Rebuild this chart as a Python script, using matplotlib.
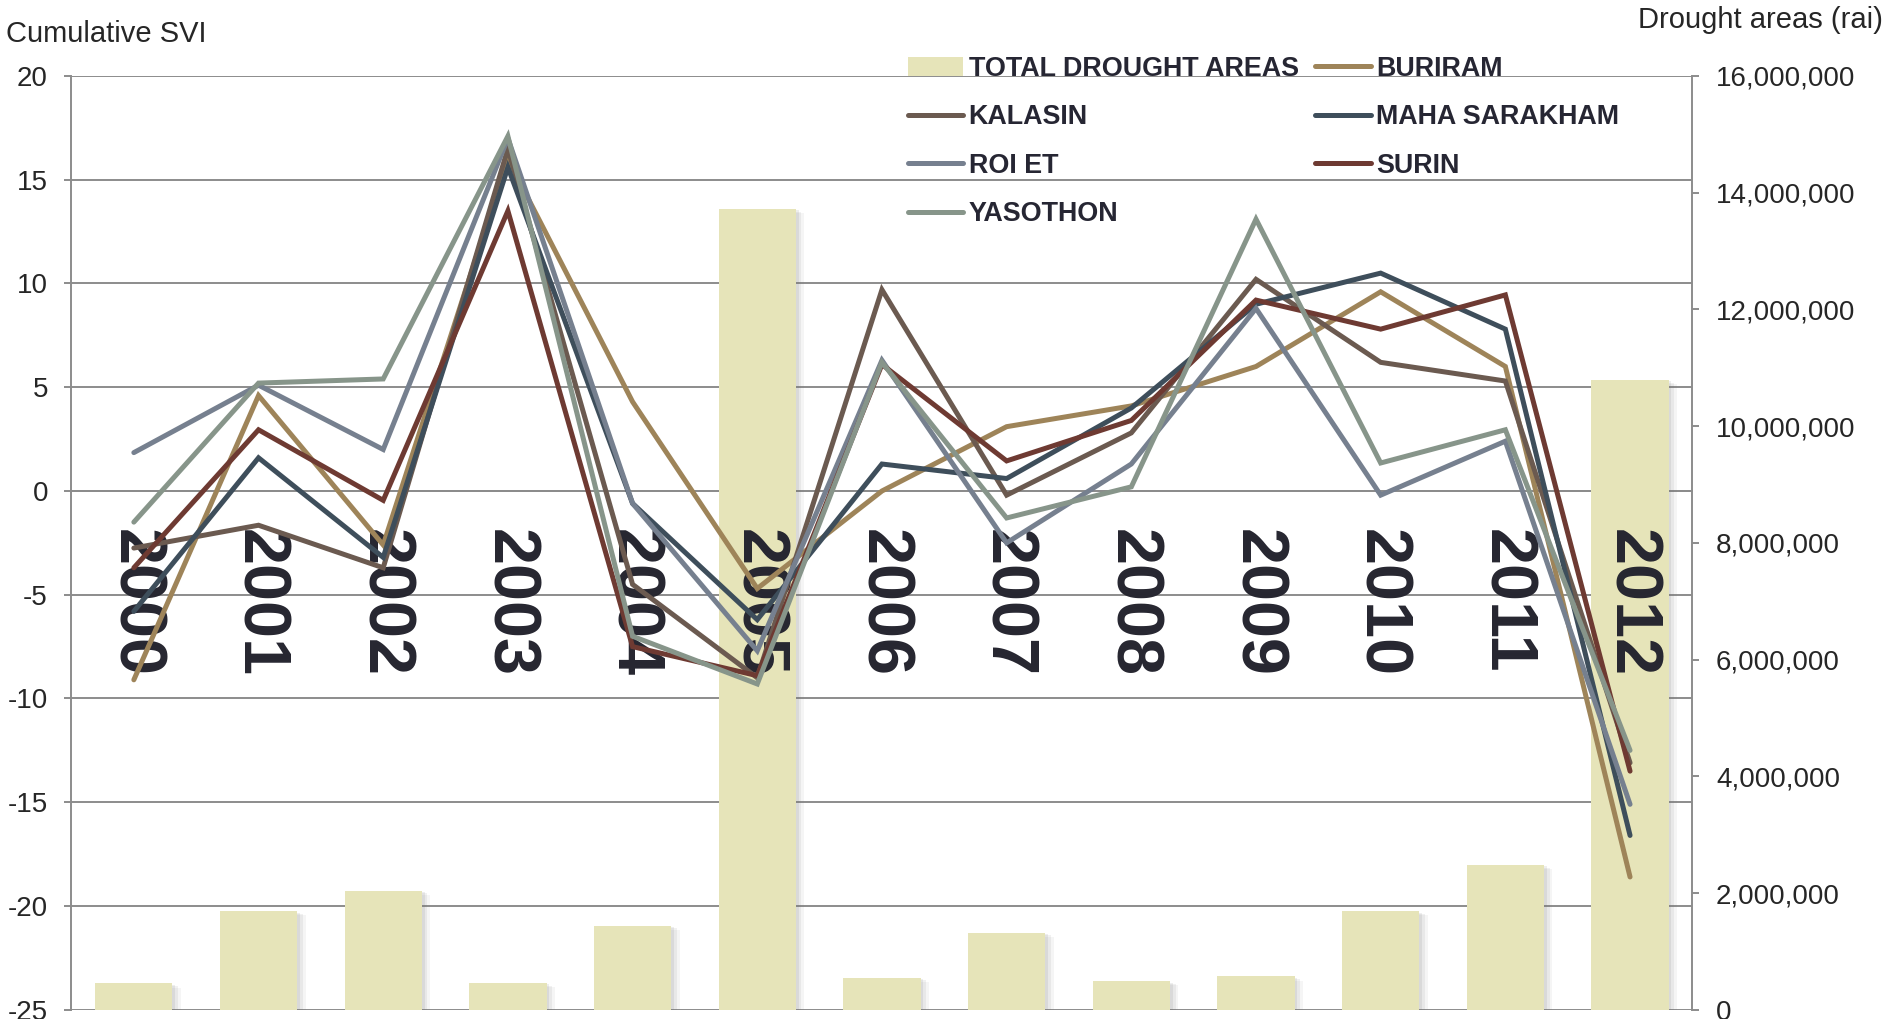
import matplotlib
matplotlib.use("Agg")
import matplotlib.pyplot as plt
import matplotlib.patheffects as pe
from matplotlib.patches import Patch
from matplotlib.ticker import FuncFormatter
import numpy as np

plt.rcParams['font.family'] = ['Liberation Sans', 'DejaVu Sans']
plt.rcParams['axes.unicode_minus'] = False

# ---- data -------------------------------------------------------------
years = ['2000', '2001', '2002', '2003', '2004', '2005', '2006',
         '2007', '2008', '2009', '2010', '2011', '2012']

total_drought_areas = [450000, 1690000, 2040000, 460000, 1440000, 13720000,
                       550000, 1320000, 490000, 570000, 1690000, 2480000,
                       10790000]

buriram       = [-9.1, 4.6, -2.6, 16.0, 4.3, -4.7, 0.0, 3.1, 4.1, 6.0, 9.6, 6.0, -18.6]
kalasin       = [-2.75, -1.65, -3.7, 16.5, -4.5, -9.0, 9.7, -0.2, 2.8, 10.2, 6.2, 5.3, -13.1]
maha_sarakham = [-5.8, 1.6, -3.2, 15.6, -0.6, -6.2, 1.3, 0.6, 4.0, 9.0, 10.5, 7.8, -16.6]
roi_et        = [1.85, 5.1, 2.0, 17.0, -0.6, -7.7, 6.3, -2.5, 1.3, 8.8, -0.2, 2.4, -15.1]
surin         = [-3.7, 2.95, -0.45, 13.5, -7.5, -8.9, 6.1, 1.45, 3.4, 9.2, 7.8, 9.45, -13.5]
yasothon      = [-1.5, 5.2, 5.4, 17.1, -7.0, -9.3, 6.2, -1.3, 0.2, 13.1, 1.35, 2.95, -12.5]

series_names = ['BURIRAM', 'KALASIN', 'MAHA SARAKHAM', 'ROI ET', 'SURIN', 'YASOTHON']
series_values = [buriram, kalasin, maha_sarakham, roi_et, surin, yasothon]
series_colors = ['#9E8459', '#6B5A50', '#3E4E5B', '#76808F', '#6E3A32', '#87958A']

bar_color = '#E6E4B9'
grid_color = '#8C8C8C'
text_color = '#262626'
label_color = '#262630'

# ---- figure & axes ----------------------------------------------------
fig = plt.figure(figsize=(18.87, 10.19), dpi=100)
rect = [0.03789, 0.00908, 0.85898, 0.91634]
ax = fig.add_axes(rect)          # left scale + grid (bottom layer)
ax_bar = ax.twinx()              # right scale, bars
ax_line = ax.twinx()             # left scale, lines (top layer)

x = np.arange(len(years))
for a in (ax, ax_bar, ax_line):
    a.set_xlim(-0.5, len(years) - 0.5)
ax.set_ylim(-25, 20)
ax_line.set_ylim(-25, 20)
ax_bar.set_ylim(0, 16000000)

# left axis, grid and category axis at zero
ax.set_yticks(np.arange(-25, 21, 5))
ax.yaxis.grid(True, color=grid_color, lw=1.4)
ax.set_axisbelow(True)
for s in ('top', 'right'):
    ax.spines[s].set_visible(False)
ax.spines['left'].set_color(grid_color)
ax.spines['left'].set_linewidth(1.4)
ax.spines['bottom'].set_position(('data', 0))
ax.spines['bottom'].set_color(grid_color)
ax.spines['bottom'].set_linewidth(1.4)
ax.set_xticks(np.arange(0.5, len(years) - 1, 1))
ax.tick_params(axis='x', direction='out', length=14, width=1.4,
               color=grid_color, labelbottom=False)
ax.tick_params(axis='y', direction='out', length=5, width=1.4,
               color=grid_color, pad=12, labelsize=20, labelcolor=text_color)

# right axis with bars
for s in ('top', 'left', 'bottom'):
    ax_bar.spines[s].set_visible(False)
ax_bar.spines['right'].set_color(grid_color)
ax_bar.spines['right'].set_linewidth(1.4)
ax_bar.set_yticks(np.arange(0, 16000001, 2000000))
ax_bar.yaxis.set_major_formatter(FuncFormatter(lambda v, p: f'{v:,.0f}'))
ax_bar.tick_params(axis='y', direction='out', length=5, width=1.4,
                   color=grid_color, pad=12, labelsize=20, labelcolor=text_color)
ax_bar.set_xticks([])

shadow = [pe.SimplePatchShadow(offset=(2, -1), shadow_rgbFace='#777777', alpha=0.12),
          pe.SimplePatchShadow(offset=(4, -2), shadow_rgbFace='#777777', alpha=0.10),
          pe.SimplePatchShadow(offset=(6, -3), shadow_rgbFace='#777777', alpha=0.07),
          pe.Normal()]
bars = ax_bar.bar(x, total_drought_areas, width=0.62, color=bar_color,
                  zorder=2, path_effects=shadow)

# lines and year labels
ax_line.axis('off')
for i, yr in enumerate(years):
    ax_line.text(x[i], -1.85, yr, rotation=-90, ha='center', va='top',
                 fontsize=48, fontweight='bold', color=label_color, zorder=2)

line_handles = []
for name, vals, col in zip(series_names, series_values, series_colors):
    ln, = ax_line.plot(x, vals, color=col, lw=3.6, solid_joinstyle='miter',
                       solid_capstyle='round', zorder=3, label=name)
    line_handles.append(ln)

# axis titles
fig.text(6 / 1887, 1 - 34 / 1019, 'Cumulative SVI', fontsize=21,
         ha='left', va='center', color=text_color)
fig.text(1883 / 1887, 1 - 20 / 1019, 'Drought areas (rai)', fontsize=21,
         ha='right', va='center', color=text_color)

# legend (column-major fill gives the row order shown)
bar_proxy = Patch(facecolor=bar_color, edgecolor='none')
h = dict(zip(series_names, line_handles))
handles = [bar_proxy, h['KALASIN'], h['ROI ET'], h['YASOTHON'],
           h['BURIRAM'], h['MAHA SARAKHAM'], h['SURIN']]
labels = ['TOTAL DROUGHT AREAS', 'KALASIN', 'ROI ET', 'YASOTHON',
          'BURIRAM', 'MAHA SARAKHAM', 'SURIN']
fig.legend(handles, labels, loc='upper left', bbox_to_anchor=(0.4812, 0.9452),
           ncol=2, frameon=False, prop={'weight': 'bold', 'size': 19.4},
           labelcolor='#262633', handlelength=2.05, handletextpad=0.2,
           columnspacing=0.62, labelspacing=0.83, borderpad=0,
           borderaxespad=0)

fig.savefig('out.png', dpi=100)
